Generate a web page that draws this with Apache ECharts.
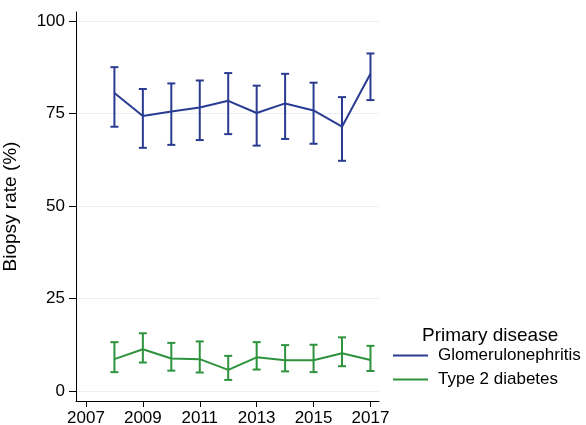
<!DOCTYPE html>
<html><head><meta charset="utf-8">
<script src="https://cdn.jsdelivr.net/npm/echarts@6/dist/echarts.min.js"></script>
<style>html,body{margin:0;padding:0;background:#fff}#c{width:586px;height:425px}</style>
</head><body><div id="c"></div>
<script>
const years = [2008, 2009, 2010, 2011, 2012, 2013, 2014, 2015, 2016, 2017];
const gnMean = [80.5, 74.3, 75.5, 76.6, 78.4, 75.1, 77.7, 75.8, 71.4, 85.7];
const gnLow  = [71.4, 65.7, 66.5, 67.8, 69.4, 66.3, 68.1, 66.8, 62.2, 78.6];
const gnHigh = [87.5, 81.6, 83.1, 83.9, 85.9, 82.5, 85.7, 83.3, 79.4, 91.2];
const t2Mean = [8.6, 11.3, 8.8, 8.6, 5.7, 9.1, 8.3, 8.3, 10.2, 8.4];
const t2Low  = [5.1, 7.7, 5.5, 5.0, 3.0, 5.8, 5.3, 5.1, 6.7, 5.4];
const t2High = [13.2, 15.6, 13.0, 13.4, 9.5, 13.2, 12.4, 12.5, 14.5, 12.2];
const xTicks = [2007, 2009, 2011, 2013, 2015, 2017];
const yTicks = [0, 25, 50, 75, 100];
const seriesNames = ['Glomerulonephritis', 'Type 2 diabetes'];
const legendTitle = 'Primary disease';
const yTitle = 'Biopsy rate (%)';

const BLUE = '#2a3b92', GREEN = '#2d943d';
const FONT = 'Liberation Sans, Arial, sans-serif';
const LINE_ICON = 'path://M0,0L35,0L35,2L0,2Z';

function errSeries(low, high, color) {
  return {
    type: 'custom',
    data: years.map((y, i) => [y, low[i], high[i]]),
    silent: true,
    z: 3,
    renderItem: function (params, api) {
      const x = api.value(0);
      const lo = api.coord([x, api.value(1)]);
      const hi = api.coord([x, api.value(2)]);
      const hw = 4;
      const st = { stroke: color, lineWidth: 2 };
      return {
        type: 'group',
        children: [
          { type: 'line', shape: { x1: lo[0], y1: lo[1], x2: hi[0], y2: hi[1] }, style: st },
          { type: 'line', shape: { x1: lo[0] - hw, y1: lo[1], x2: lo[0] + hw, y2: lo[1] }, style: st },
          { type: 'line', shape: { x1: hi[0] - hw, y1: hi[1], x2: hi[0] + hw, y2: hi[1] }, style: st }
        ]
      };
    }
  };
}

const chart = echarts.init(document.getElementById('c'), null, { renderer: 'canvas' });
chart.setOption({
  animation: false,
  backgroundColor: '#fff',
  textStyle: { fontFamily: FONT },
  grid: { left: 76, right: 207, top: 12, bottom: 24, containLabel: false, outerBoundsMode: 'none' },
  xAxis: {
    type: 'value', min: 2006.65, max: 2017.3,
    axisLine: { show: true, onZero: false, lineStyle: { color: '#000', width: 1 } },
    axisTick: { show: true, length: 6, lineStyle: { color: '#000' }, customValues: xTicks },
    axisLabel: { color: '#000', fontSize: 17, fontFamily: FONT, margin: 9, customValues: xTicks, formatter: v => String(v) },
    splitLine: { show: false }
  },
  yAxis: {
    type: 'value', min: -2.7, max: 102.4,
    name: yTitle, nameLocation: 'middle', nameGap: 56,
    nameTextStyle: { color: '#000', fontSize: 19, fontFamily: FONT },
    axisLine: { show: true, onZero: false, lineStyle: { color: '#000', width: 1 } },
    axisTick: { show: true, length: 7, lineStyle: { color: '#000' }, customValues: yTicks },
    axisLabel: { color: '#000', fontSize: 17, fontFamily: FONT, margin: 11, customValues: yTicks },
    splitLine: { show: true, lineStyle: { color: '#e8f1f3', width: 1 } }
  },
  legend: {
    data: [
      { name: seriesNames[0], icon: LINE_ICON, itemStyle: { color: BLUE } },
      { name: seriesNames[1], icon: LINE_ICON, itemStyle: { color: GREEN } }
    ],
    orient: 'vertical',
    left: 388, top: 342,
    itemWidth: 35, itemHeight: 17, itemGap: 7,
    textStyle: { color: '#000', fontSize: 17, fontFamily: FONT, padding: [0, 0, 0, 5] }
  },
  graphic: [{
    type: 'text', left: 422, top: 326,
    style: { text: legendTitle, fill: '#000', font: '19px ' + FONT }
  }],
  series: [
    { name: seriesNames[0], type: 'line', data: years.map((y, i) => [y, gnMean[i]]), symbol: 'none',
      lineStyle: { color: BLUE, width: 2 }, itemStyle: { color: BLUE }, z: 4 },
    { name: seriesNames[1], type: 'line', data: years.map((y, i) => [y, t2Mean[i]]), symbol: 'none',
      lineStyle: { color: GREEN, width: 2 }, itemStyle: { color: GREEN }, z: 4 },
    errSeries(gnLow, gnHigh, BLUE),
    errSeries(t2Low, t2High, GREEN)
  ]
});
</script></body></html>
